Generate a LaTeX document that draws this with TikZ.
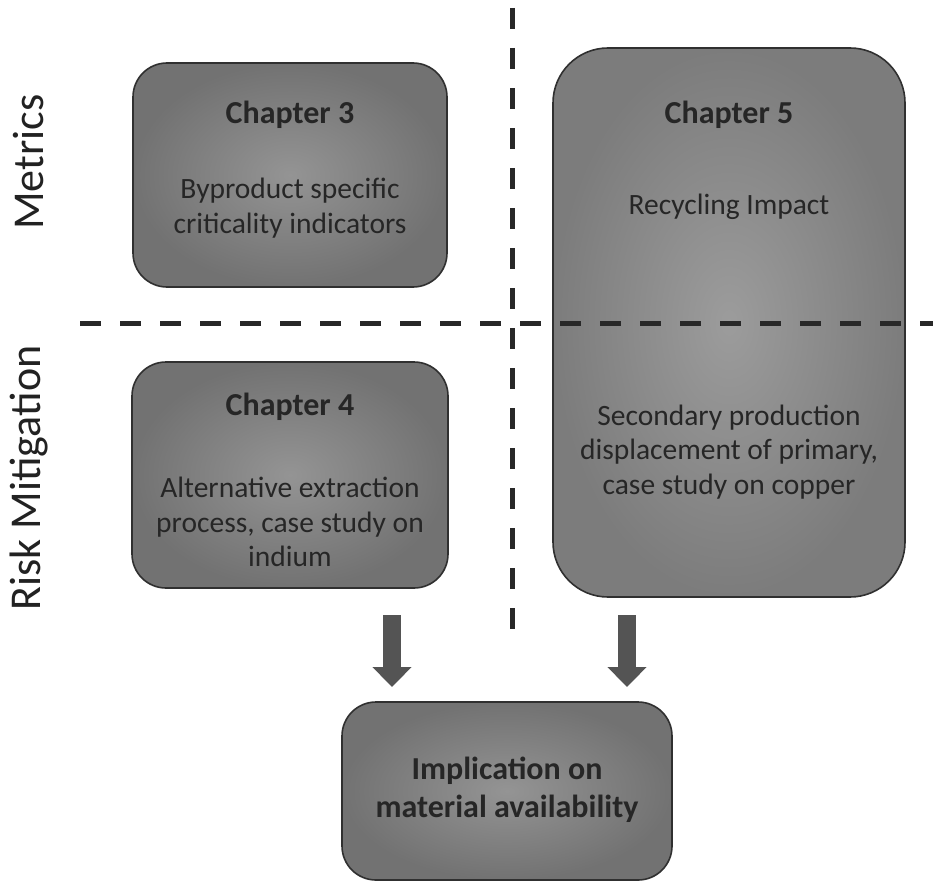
\documentclass[tikz,border=0pt]{standalone}
\usepackage{fontspec}
\setmainfont{Carlito}
\usetikzlibrary{arrows.meta,calc}
\definecolor{boxinner}{RGB}{148,148,148}
\definecolor{boxouter}{RGB}{114,114,114}
\definecolor{boxinnerlight}{RGB}{156,156,156}
\definecolor{boxouterlight}{RGB}{124,124,124}
\definecolor{boxedge}{RGB}{48,48,48}
\definecolor{txt}{RGB}{38,38,38}
\definecolor{arrowfill}{RGB}{84,84,84}
\definecolor{dashcol}{RGB}{40,40,40}
\tikzset{
  chapbox/.style={draw=boxedge, line width=1.6pt, inner color=boxinner, outer color=boxouter, rounded corners=34pt, inner sep=0pt},
  headtxt/.style={text=txt, font=\fontsize{32}{38}\selectfont\bfseries, align=center},
  bodytxt/.style={text=txt, font=\fontsize{29.5}{34.5}\selectfont, align=center},
  sidetxt/.style={text=txt!90!black, font=\fontsize{44}{50}\selectfont, rotate=90},
  divider/.style={draw=dashcol, line width=5pt, dash pattern=on 21pt off 19pt},
  blockarrow/.style={draw=arrowfill, line width=18pt, -{Triangle[width=38pt,length=20pt]}}
}
\begin{document}
\begin{tikzpicture}[x=1pt,y=-1pt]
\useasboundingbox (0,0) rectangle (933,883);
\fill[white] (0,0) rectangle (933,883);

% quadrant dividers (vertical one sits behind the boxes)
\coordinate (vtop) at (512,8);
\coordinate (vbot) at (512,640);
\draw[divider] (vtop) -- (vbot);

% chapter boxes
\node[chapbox, minimum width=314pt, minimum height=224pt] (ch3) at (290,175) {};
\node[chapbox, minimum width=352pt, minimum height=549pt, rounded corners=55pt,
      inner color=boxinnerlight, outer color=boxouterlight] (ch5) at (729,322.5) {};
\node[chapbox, minimum width=316pt, minimum height=226pt] (ch4) at (290,475) {};
\node[chapbox, minimum width=330pt, minimum height=178pt] (impl) at (507,791) {};

% horizontal divider drawn over the chapter 5 box
\coordinate (hleft) at (80,323);
\coordinate (hright) at (933,323);
\draw[divider] (hleft) -- (hright);

% box texts
\node[headtxt] (t3h) at (290,115) {Chapter 3};
\node[bodytxt] (t3b) at (290,208) {Byproduct specific\\criticality indicators};

\node[headtxt] (t5h) at (729,115) {Chapter 5};
\node[bodytxt] (t5b) at (729,207) {Recycling Impact};
\node[bodytxt] (t5c) at (729,452) {Secondary production\\displacement of primary,\\case study on copper};

\node[headtxt] (t4h) at (290,407) {Chapter 4};
\node[bodytxt] (t4b) at (290,522) {Alternative extraction\\process, case study on\\indium};

\node[headtxt] (ti) at (507,790) {Implication on\\material availability};

% side labels
\node[sidetxt] (metrics) at (29,162) {Metrics};
\node[sidetxt] (risk) at (29,478) {Risk Mitigation};

% block arrows into the implication box
\coordinate (a1s) at (392,615);
\coordinate (a1e) at (392,687);
\coordinate (a2s) at (627,615);
\coordinate (a2e) at (627,687);
\draw[blockarrow] (a1s) -- (a1e);
\draw[blockarrow] (a2s) -- (a2e);
\end{tikzpicture}
\end{document}
